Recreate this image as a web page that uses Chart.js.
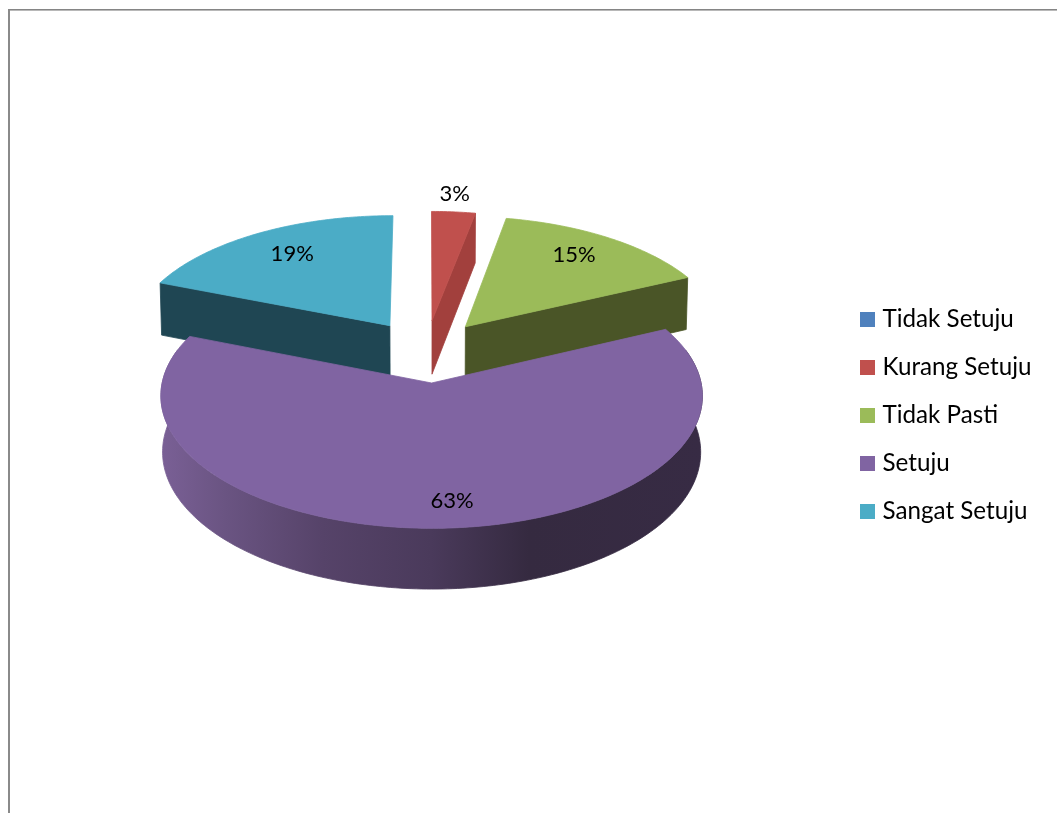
<!DOCTYPE html>
<html lang="en">
<head>
  <meta charset="UTF-8">
  <title>Tanggapan Responden</title>
  <script src="https://cdn.jsdelivr.net/npm/chart.js"></script>
  <style>
    html, body {
      margin: 0;
      background: #fff;
      overflow: hidden;
    }
    .frame {
      position: absolute;
      left: 8px;
      top: 9px;
      right: 0;
      bottom: 0;
      border-left: 2px solid #8a8a8a;
      border-top: 1px solid #858585;
      box-shadow: inset 0 1px #b8b8b8;
    }
    .chart-box {
      position: absolute;
      left: 0;
      top: 0;
      width: 1057px;
      height: 813px;
    }
  </style>
</head>
<body>
  <div class="frame"></div>
  <div class="chart-box"><canvas id="pie"></canvas></div>

  <script>
    const categories = ["Tidak Setuju", "Kurang Setuju", "Tidak Pasti", "Setuju", "Sangat Setuju"];
    const percents = [0, 3, 15, 63, 19];
    const sliceColors = ["#4f81bd", "#c0504d", "#9bbb59", "#8064a2", "#4bacc6"];
    const wallColors = ["#2a4565", "#a2403d", "#4a5527", "#4d3b60", "#1f4653"];

    // where each percent label sits: distance from the slice tip in radii, turn in degrees
    const labelRadius = [0, 1.18, 0.78, 0.83, 0.75];
    const labelTurn = [0, -0.5, -2, -3, 1];

    // perspective camera for the tilted pie
    const view = { cx: 426, cy: 351, k: 262, b: 125, h: 55, p: 0.095, q: 0.006 };
    const explode = 0.25;
    const font = "Lato, sans-serif";
    const DEG = Math.PI / 180;

    function project(X, Y, Z, shift) {
      const w = 1 - view.p * Y + view.q * Z;
      return {
        x: view.cx + shift + view.k * X / w,
        y: view.cy + (view.b * Y + view.h * Z) / w
      };
    }

    // point on the rim of a slice; theta runs clockwise from 12 o'clock
    function rim(slice, theta, rho, Z) {
      return project(
        slice.ox + rho * slice.stretch * Math.sin(theta),
        slice.oy - rho * Math.cos(theta),
        Z,
        slice.shift
      );
    }

    function fillPoly(ctx, pts, style) {
      ctx.beginPath();
      pts.forEach((pt, i) => (i ? ctx.lineTo(pt.x, pt.y) : ctx.moveTo(pt.x, pt.y)));
      ctx.closePath();
      ctx.fillStyle = style;
      ctx.fill();
      // hides the hairline seam between neighbouring faces
      ctx.strokeStyle = style;
      ctx.lineWidth = 0.8;
      ctx.lineJoin = "round";
      ctx.stroke();
    }

    function arcPoints(slice, from, to, Z) {
      const steps = Math.ceil((to - from) / DEG);
      const pts = [];
      for (let i = 0; i <= steps; i++) {
        pts.push(rim(slice, from + (to - from) * i / steps, 1, Z));
      }
      return pts;
    }

    function cutFace(slice, theta) {
      return [rim(slice, theta, 0, 0), rim(slice, theta, 1, 0), rim(slice, theta, 1, 1), rim(slice, theta, 0, 1)];
    }

    // the outer wall of the big slice is shaded from left to right
    function wallStyle(ctx, slice) {
      if (slice.index !== 3) return wallColors[slice.index];
      const g = ctx.createLinearGradient(160, 0, 702, 0);
      g.addColorStop(0, "#7a6096");
      g.addColorStop(0.12, "#6a5482");
      g.addColorStop(0.3, "#564369");
      g.addColorStop(0.5, "#4a3a5b");
      g.addColorStop(0.68, "#352a40");
      g.addColorStop(1, "#372b44");
      return g;
    }

    const tiltedPie = {
      id: "tiltedPie",
      beforeDatasetsDraw(chart) {
        const ctx = chart.ctx;
        const slices = chart.getDatasetMeta(0).data.map((arc, index) => {
          const start = arc.startAngle + Math.PI / 2;
          const end = arc.endAngle + Math.PI / 2;
          const mid = (start + end) / 2;
          return {
            index,
            start,
            end,
            mid,
            ox: explode * Math.sin(mid),
            oy: -explode * Math.cos(mid),
            // the front slice sits a little right of the others and reads wider
            shift: index === 3 ? 3.5 : 0,
            stretch: index === 3 ? 1.004 : 1
          };
        }).filter(slice => slice.end > slice.start);

        // back slices first, the front slice covers their lower edges
        slices.sort((a, c) => Math.cos(c.mid) - Math.cos(a.mid));

        slices.forEach(slice => {
          // the rim wall only shows on the side turned towards the viewer
          const from = Math.max(slice.start, 75 * DEG);
          const to = Math.min(slice.end, 285 * DEG);
          if (to > from) {
            const front = arcPoints(slice, from, to, 0);
            const under = arcPoints(slice, from, to, 1).reverse();
            fillPoly(ctx, front.concat(under), wallStyle(ctx, slice));
          }
          // only the cut that faces the viewer shows
          if (slice.index !== 3) {
            const cut = Math.sin(slice.mid) < 0 ? slice.start : slice.end;
            fillPoly(ctx, cutFace(slice, cut), wallColors[slice.index]);
          }
          const top = arcPoints(slice, slice.start, slice.end, 0);
          fillPoly(ctx, [rim(slice, 0, 0, 0)].concat(top), sliceColors[slice.index]);
        });

        ctx.font = "22px " + font;
        ctx.fillStyle = "#000";
        ctx.textAlign = "center";
        ctx.textBaseline = "middle";
        slices.forEach(slice => {
          const theta = slice.mid + labelTurn[slice.index] * DEG;
          const pos = rim(slice, theta, labelRadius[slice.index], 0);
          ctx.fillText(percents[slice.index] + "%", pos.x, pos.y);
        });
        return false;
      }
    };

    // square legend key, kept as a bitmap so the text gap stays tight
    function legendKey(color) {
      const key = document.createElement("canvas");
      key.width = 15;
      key.height = 15;
      const c = key.getContext("2d");
      c.fillStyle = color;
      c.fillRect(0, 0, 15, 15);
      return key;
    }

    new Chart(document.getElementById("pie"), {
      type: "pie",
      data: {
        labels: categories,
        datasets: [{ data: percents, backgroundColor: sliceColors, borderWidth: 0 }]
      },
      plugins: [tiltedPie],
      options: {
        responsive: true,
        maintainAspectRatio: false,
        animation: false,
        layout: { padding: { top: 18, right: 15.5 } },
        plugins: {
          tooltip: { enabled: false },
          legend: {
            position: "right",
            labels: {
              usePointStyle: true,
              boxWidth: 5,
              padding: 23.8,
              color: "#000",
              font: { family: font, size: 24.2 },
              generateLabels(chart) {
                return Chart.overrides.pie.plugins.legend.labels.generateLabels(chart).map((item, i) => {
                  item.pointStyle = legendKey(sliceColors[i]);
                  return item;
                });
              }
            }
          }
        }
      }
    });
  </script>
</body>
</html>
